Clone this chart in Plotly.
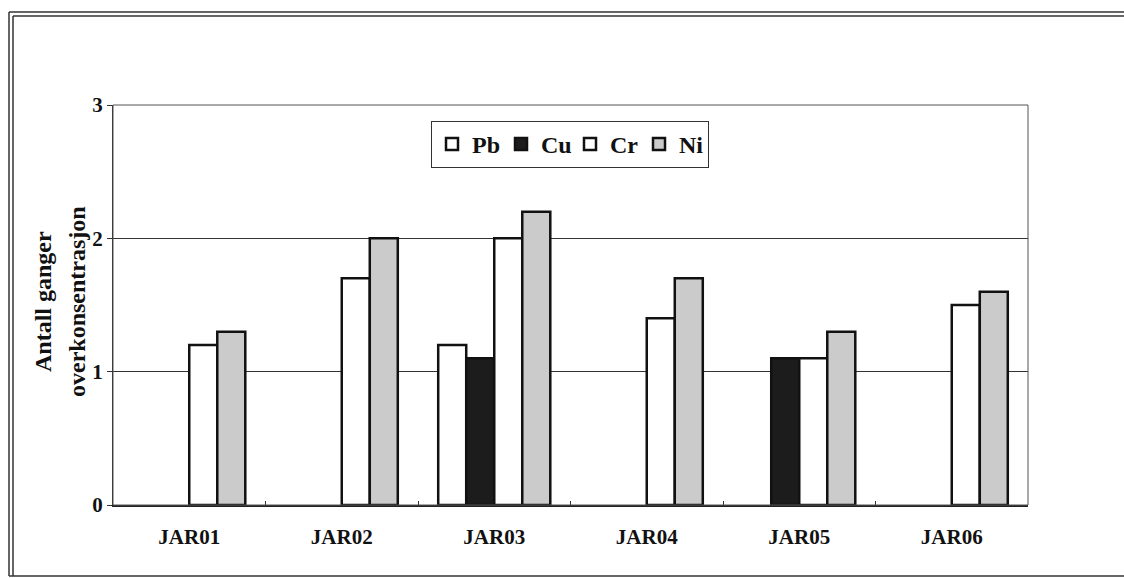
import plotly.graph_objects as go

categories = ["JAR01", "JAR02", "JAR03", "JAR04", "JAR05", "JAR06"]
pb = [None, None, 1.2, None, None, None]
cu = [None, None, 1.1, None, 1.1, None]
cr = [1.2, 1.7, 2.0, 1.4, 1.1, 1.5]
ni = [1.3, 2.0, 2.2, 1.7, 1.3, 1.6]
y_ticks = [0, 1, 2, 3]
series_names = ["Pb", "Cu", "Cr", "Ni"]

FONT = "Liberation Serif"
W, H = 1124, 578
# target plot area in page pixels: x 113..1028, y 105..505
L, T = 113, 105
R = W - 1028
B = H - 505
PW, PH = W - L - R, H - T - B


def px_x(px):
    return (px - L) / PW


def px_y(py):
    return (H - B - py) / PH


fig = go.Figure()
fills = ["#ffffff", "#1c1c1c", "#ffffff", "#cbcbcb"]
for name, vals, col in zip(series_names, [pb, cu, cr, ni], fills):
    fig.add_trace(go.Bar(
        x=categories, y=vals, name=name,
        marker=dict(color=col, line=dict(color="#111111", width=2.5)),
    ))

fig.update_layout(
    width=W, height=H,
    margin=dict(l=L, r=R, t=T, b=B),
    paper_bgcolor="white", plot_bgcolor="white",
    barmode="group", bargap=0.265, bargroupgap=0,
    font=dict(family=FONT, color="#111111"),
    showlegend=True,
    legend=dict(
        orientation="h", x=px_x(570), y=px_y(121), xanchor="center", yanchor="top",
        bgcolor="white", bordercolor="#333333", borderwidth=1,
        font=dict(family=FONT, size=24, color="#111111", weight="bold"),
        itemwidth=30, tracegroupgap=0, entrywidth=24, entrywidthmode="pixels",
    ),
    xaxis=dict(
        showline=True, linecolor="#222222", linewidth=2,
        ticks="inside", tickson="boundaries", ticklen=4, tickcolor="#333333",
        tickfont=dict(family=FONT, size=21, weight="bold"),
        ticklabelstandoff=12,
        showgrid=False,
    ),
    yaxis=dict(
        range=[0, 3], tickvals=y_ticks,
        showline=True, linecolor="#222222", linewidth=1,
        ticks="outside", ticklen=5, tickcolor="#333333",
        tickfont=dict(family=FONT, size=21, weight="bold"),
        showgrid=True, gridcolor="#333333", gridwidth=1,
        zeroline=False,
    ),
)

# plot-area border
fig.add_shape(type="rect", xref="paper", yref="paper", x0=0, x1=1, y0=0, y1=1,
              line=dict(color="#555555", width=1), layer="above")

# outer frame (double on top and left, single at bottom)
frame_lines = [
    (9, 12, 9, 576), (13, 16, 13, 576),        # left verticals
    (9, 12, 1124, 12), (13, 16, 1124, 16),     # top horizontals
    (9, 576, 1124, 576),                        # bottom
]
for x0, y0, x1, y1 in frame_lines:
    fig.add_shape(type="line", xref="paper", yref="paper",
                  x0=px_x(x0), y0=px_y(y0), x1=px_x(x1), y1=px_y(y1),
                  line=dict(color="#333333", width=1.5))

# y-axis title (two lines)
fig.add_annotation(text="<b>Antall ganger</b>", xref="paper", yref="paper",
                   x=px_x(43), y=px_y(302), textangle=-90, showarrow=False,
                   font=dict(family=FONT, size=24, color="#111111"),
                   xanchor="center", yanchor="middle")
fig.add_annotation(text="<b>overkonsentrasjon</b>", xref="paper", yref="paper",
                   x=px_x(77), y=px_y(302), textangle=-90, showarrow=False,
                   font=dict(family=FONT, size=24, color="#111111"),
                   xanchor="center", yanchor="middle")

fig.write_html(
    "out.html",
    config={"displayModeBar": False},
    post_script="document.body.style.margin='0';document.body.style.overflow='hidden';",
)
